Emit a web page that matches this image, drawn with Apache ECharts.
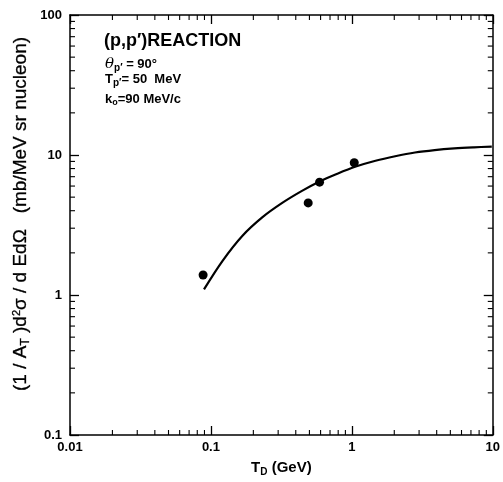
<!DOCTYPE html>
<html><head><meta charset="utf-8">
<script src="https://cdn.jsdelivr.net/npm/echarts@6/dist/echarts.min.js"></script>
<style>html,body{margin:0;padding:0;background:#fff}#c{width:503px;height:482px}</style>
</head><body><div id="c"></div>
<script>
// data
const pointsX = [0.088, 0.49, 0.59, 1.04];
const pointsY = [1.39, 4.55, 6.4, 8.8];
const curveX = [0.0893, 0.1213, 0.1675, 0.2312, 0.3186, 0.4395, 0.59, 0.773, 1.067, 1.472, 2.03, 2.805, 3.87, 5.33, 7.36, 9.84];
const curveY = [1.096, 1.762, 2.652, 3.585, 4.53, 5.52, 6.47, 7.29, 8.27, 9.1, 9.8, 10.42, 10.85, 11.15, 11.35, 11.48];
const xTickLabels = {0.01: '0.01', 0.1: '0.1', 1: '1', 10: '10'};
const yTickLabels = {0.1: '0.1', 1: '1', 10: '10', 100: '100'};

// minor tick positions (2..9 per decade)
function minors(lo, hi) {
  const out = [];
  for (let d = lo; d < hi; d++) for (let m = 2; m <= 9; m++) out.push(+(m * Math.pow(10, d)).toPrecision(3));
  return out;
}
const xMinor = minors(-2, 1);
const yMinor = minors(-1, 2);
const tickData = xMinor.map(v => ['x', v]).concat(yMinor.map(v => ['y', v]));

const font = 'Liberation Sans, Arial, sans-serif';
const chart = echarts.init(document.getElementById('c'), null, {renderer: 'canvas'});
const axisLine = {show: true, onZero: false, lineStyle: {color: '#000', width: 1.5}};
const majorTick = {inside: true, length: 9, lineStyle: {color: '#000', width: 1.3}};
const MINOR = 5;
chart.setOption({
  animation: false,
  backgroundColor: '#fff',
  grid: {left: 70, right: 4, top: 15, bottom: 45, containLabel: false},
  xAxis: [{
    type: 'log', min: 0.01, max: 10, logBase: 10, position: 'bottom',
    axisLine, axisTick: majorTick, splitLine: {show: false},
    axisLabel: {color: '#000', fontFamily: font, fontSize: 13, fontWeight: 'bold', margin: 6,
      formatter: v => xTickLabels[+v.toPrecision(3)] || ''},
    name: 'T{sub|D} (GeV)', nameLocation: 'middle', nameGap: 23,
    nameTextStyle: {color: '#000', fontFamily: font, fontSize: 15, fontWeight: 'bold',
      rich: {sub: {fontSize: 10, fontWeight: 'bold', fontFamily: font, color: '#000', padding: [9, 0, 0, 0]}}}
  }, {
    type: 'log', min: 0.01, max: 10, logBase: 10, position: 'top',
    axisLine, axisTick: majorTick, axisLabel: {show: false}, splitLine: {show: false}
  }],
  yAxis: [{
    type: 'log', min: 0.1, max: 100, logBase: 10, position: 'left',
    axisLine, axisTick: majorTick, splitLine: {show: false},
    axisLabel: {color: '#000', fontFamily: font, fontSize: 13, fontWeight: 'bold', margin: 8,
      formatter: v => yTickLabels[+v.toPrecision(3)] || ''}
  }, {
    type: 'log', min: 0.1, max: 100, logBase: 10, position: 'right',
    axisLine, axisTick: majorTick, axisLabel: {show: false}, splitLine: {show: false}
  }],
  graphic: [{
    type: 'text', x: 21, y: 214, rotation: Math.PI / 2,
    style: {
      text: '(1 / A{sub|T} )d{sup|2}σ / d EdΩ   (mb/MeV sr nucleon)',
      fontFamily: font, fontSize: 19, fill: '#000', stroke: '#000', lineWidth: 0.3,
      align: 'center', verticalAlign: 'middle',
      rich: {
        sub: {fontSize: 12, fontFamily: font, fill: '#000', padding: [10, 0, 0, 0]},
        sup: {fontSize: 11, fontFamily: font, fill: '#000', padding: [0, 0, 8, 0]}
      }
    }
  }, {
    type: 'text', left: 104, top: 32,
    style: {text: '(p,p′)REACTION', fontFamily: font, fontSize: 18, fontWeight: 'bold', fill: '#000'}
  }, {
    type: 'text', left: 105, top: 57,
    style: {
      text: '{it|θ}{sub|p′} = 90°', fontFamily: font, fontSize: 13, fontWeight: 'bold', fill: '#000',
      rich: {
        it: {fontStyle: 'italic', fontSize: 15, fontFamily: 'DejaVu Serif, serif', fill: '#000'},
        sub: {fontSize: 10, fontWeight: 'bold', fontFamily: font, fill: '#000', padding: [7, 0, 0, 0]}
      }
    }
  }, {
    type: 'text', left: 105, top: 73,
    style: {
      text: 'T{sub|p′}= 50  MeV', fontFamily: font, fontSize: 13, fontWeight: 'bold', fill: '#000',
      rich: {sub: {fontSize: 10, fontWeight: 'bold', fontFamily: font, fill: '#000', padding: [7, 0, 0, 0]}}
    }
  }, {
    type: 'text', left: 105, top: 93,
    style: {
      text: 'k{sub|o}=90 MeV/c', fontFamily: font, fontSize: 13, fontWeight: 'bold', fill: '#000',
      rich: {sub: {fontSize: 9, fontWeight: 'bold', fontFamily: font, fill: '#000', padding: [6, 0, 0, 0]}}
    }
  }],
  series: [{
    type: 'line', name: 'curve', smooth: 0.35, showSymbol: false, silent: true,
    data: curveX.map((x, i) => [x, curveY[i]]),
    lineStyle: {color: '#000', width: 2.2}
  }, {
    type: 'scatter', name: 'data', symbol: 'circle', symbolSize: 9, silent: true,
    data: pointsX.map((x, i) => [x, pointsY[i]]),
    itemStyle: {color: '#000', opacity: 1}
  }, {
    type: 'custom', name: 'minorTicks', silent: true, clip: false,
    data: tickData,
    renderItem: function (params, api) {
      const cs = params.coordSys;
      const kind = tickData[params.dataIndex][0];
      const v = tickData[params.dataIndex][1];
      const st = {stroke: '#000', lineWidth: 1.1};
      if (kind === 'x') {
        const px = api.coord([v, 1])[0];
        return {type: 'group', children: [
          {type: 'line', shape: {x1: px, y1: cs.y + cs.height, x2: px, y2: cs.y + cs.height - MINOR}, style: st},
          {type: 'line', shape: {x1: px, y1: cs.y, x2: px, y2: cs.y + MINOR}, style: st}
        ]};
      } else {
        const py = api.coord([1, v])[1];
        return {type: 'group', children: [
          {type: 'line', shape: {x1: cs.x, y1: py, x2: cs.x + MINOR, y2: py}, style: st},
          {type: 'line', shape: {x1: cs.x + cs.width, y1: py, x2: cs.x + cs.width - MINOR, y2: py}, style: st}
        ]};
      }
    }
  }]
});
</script></body></html>
